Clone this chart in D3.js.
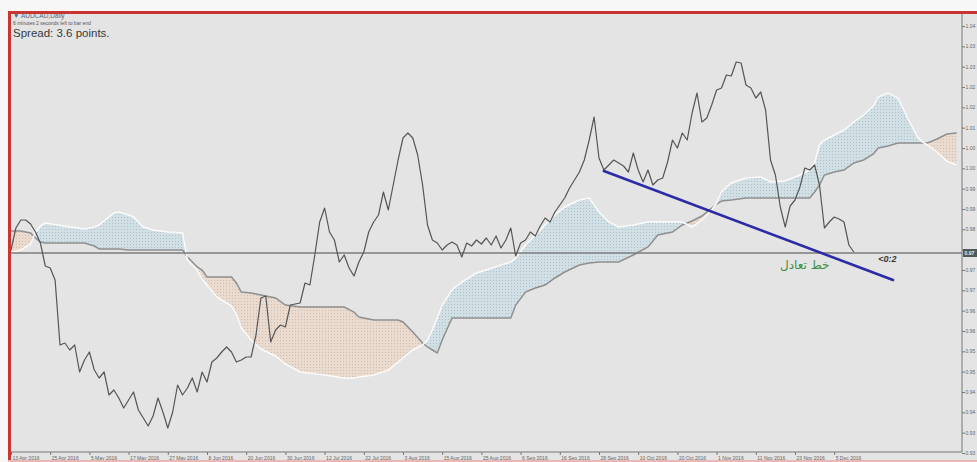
<!DOCTYPE html>
<html><head><meta charset="utf-8">
<script src="https://cdn.jsdelivr.net/npm/d3@7/dist/d3.min.js"></script>
<style>html,body{margin:0;padding:0;background:#f7f7f7;}svg{display:block;}</style>
</head><body>
<svg id="chart" width="977" height="462"></svg>
<script>
// ---------------- data ----------------
const dateLabels = ["13 Apr 2016","25 Apr 2016","5 May 2016","17 May 2016","27 May 2016","8 Jun 2016",
  "20 Jun 2016","30 Jun 2016","12 Jul 2016","22 Jul 2016","3 Aug 2016","15 Aug 2016","25 Aug 2016",
  "6 Sep 2016","16 Sep 2016","28 Sep 2016","10 Oct 2016","20 Oct 2016","1 Nov 2016","11 Nov 2016",
  "23 Nov 2016","5 Dec 2016"];
const barsPerLabel = 8;

// daily closes, one per bar from 13 Apr 2016
const closes = [
  0.9778,0.9844,0.9868,0.9868,0.9856,0.9832,0.9799,0.9730,0.9724,0.9688,
  0.9493,0.9499,0.9478,0.9493,0.9412,0.9448,0.9472,0.9418,0.9394,0.9412,
  0.9343,0.9358,0.9334,0.9304,0.9328,0.9352,0.9298,0.9274,0.9250,0.9280,
  0.9334,0.9292,0.9244,0.9292,0.9373,0.9343,0.9364,0.9394,0.9352,0.9412,
  0.9382,0.9442,0.9454,0.9472,0.9487,0.9472,0.9442,0.9448,0.9457,0.9457,
  0.9523,0.9634,0.9640,0.9502,0.9538,0.9553,0.9547,0.9613,0.9616,0.9619,
  0.9679,0.9673,0.9763,0.9862,0.9904,0.9832,0.9808,0.9742,0.9763,0.9724,
  0.9700,0.9742,0.9772,0.9832,0.9862,0.9883,0.9952,0.9898,0.9973,1.0048,
  1.0114,1.0129,1.0114,1.0063,0.9973,0.9853,0.9808,0.9799,0.9778,0.9793,
  0.9802,0.9793,0.9757,0.9799,0.9790,0.9808,0.9796,0.9814,0.9793,0.9820,
  0.9784,0.9808,0.9844,0.9760,0.9799,0.9808,0.9832,0.9820,0.9850,0.9874,
  0.9862,0.9892,0.9913,0.9934,0.9964,0.9988,1.0012,1.0048,1.0108,1.0177,
  1.0054,1.0018,1.0033,1.0048,1.0039,1.0030,1.0012,1.0069,1.0018,0.9982,
  1.0018,0.9973,0.9988,0.9994,1.0042,1.0108,1.0084,1.0129,1.0108,1.0189,
  1.0249,1.0162,1.0174,1.0213,1.0258,1.0264,1.0303,1.0300,1.0342,1.0339,
  1.0273,1.0264,1.0234,1.0252,1.0198,1.0048,1.0003,0.9907,0.9847,0.9910,
  0.9928,0.9967,1.0024,1.0018,1.0033,0.9973,0.9844,0.9862,0.9877,0.9871,
  0.9862,0.9793,0.9772
];

// Ichimoku cloud (bar index, Senkou Span A, Senkou Span B)
const cloudIdx = [0,2,4,5,6,7,12,15,17,18,21,22,24,25,27,29,32,35,36,38,39,40,42,45,46,47,49,51,54,56,59,64,68,70,71,74,77,79,80,82,84,85,86,87,88,90,92,95,97,100,102,103,105,107,109,111,113,116,118,120,122,124,127,130,132,135,137,139,141,143,144,145,147,150,153,155,158,161,163,164,165,166,168,170,172,174,176,177,179,181,183,185,186,187,189,191,193];
const senkouA = [0.9772,0.9778,0.9796,0.9832,0.9850,0.9859,0.9847,0.9841,0.9847,0.9853,0.9889,0.9892,0.9883,0.9877,0.9847,0.9838,0.9832,0.9829,0.9748,0.9718,0.9691,0.9673,0.9637,0.9610,0.9586,0.9544,0.9508,0.9481,0.9460,0.9436,0.9412,0.9403,0.9394,0.9394,0.9397,0.9403,0.9418,0.9442,0.9454,0.9478,0.9493,0.9508,0.9538,0.9574,0.9613,0.9658,0.9682,0.9709,0.9718,0.9733,0.9742,0.9754,0.9793,0.9823,0.9853,0.9883,0.9907,0.9928,0.9934,0.9892,0.9862,0.9847,0.9853,0.9862,0.9862,0.9862,0.9862,0.9847,0.9868,0.9898,0.9919,0.9952,0.9979,0.9994,0.9997,0.9982,0.9985,1.0003,1.0018,1.0039,1.0093,1.0108,1.0123,1.0138,1.0162,1.0183,1.0210,1.0237,1.0249,1.0234,1.0174,1.0117,1.0102,1.0093,1.0072,1.0045,1.0033];
const senkouB = [0.9835,0.9835,0.9829,0.9814,0.9802,0.9799,0.9799,0.9799,0.9790,0.9781,0.9781,0.9781,0.9778,0.9778,0.9778,0.9778,0.9778,0.9778,0.9757,0.9727,0.9718,0.9697,0.9697,0.9697,0.9679,0.9652,0.9649,0.9643,0.9634,0.9613,0.9607,0.9607,0.9607,0.9592,0.9577,0.9568,0.9568,0.9568,0.9562,0.9532,0.9499,0.9487,0.9478,0.9469,0.9508,0.9574,0.9574,0.9574,0.9574,0.9574,0.9574,0.9613,0.9652,0.9664,0.9673,0.9694,0.9712,0.9733,0.9739,0.9742,0.9742,0.9742,0.9763,0.9787,0.9823,0.9832,0.9853,0.9865,0.9880,0.9904,0.9916,0.9925,0.9928,0.9934,0.9934,0.9934,0.9934,0.9934,0.9934,0.9952,0.9973,1.0003,1.0012,1.0018,1.0039,1.0048,1.0066,1.0084,1.0090,1.0099,1.0099,1.0099,1.0099,1.0099,1.0111,1.0126,1.0129];

// right price scale: tick values and the (cropped) labels as they appear
const yTicks = [1.0450,1.0389,1.0328,1.0267,1.0206,1.0145,1.0084,1.0023,0.9962,0.9901,0.9840,0.9779,0.9718,0.9657,0.9596,0.9535,0.9474,0.9413,0.9352,0.9291,0.9230,0.9169];
const yTickLabels = ["1.04","1.03","1.03","1.02","1.02","1.01","1.00","1.00","0.99","0.99","0.98","","0.97","0.97","0.96","0.96","0.95","0.95","0.94","0.94","0.93","0.93"];
const bidPrice = 0.9769;
const bidLabel = "0.97";
const trendIdx = [121,180];
const trendVal = [1.0015,0.9688];
const headerLines = ["\u25BC AUDCAD,Daily","6 minutes 2 seconds left to bar end","Spread: 3.6 points."];
const arabicLabel = "خط تعادل";
const sideLabel = "<0:2";

// ---------------- drawing ----------------
const svg = d3.select("#chart");
const W = 977, H = 462;
const plotL = 10, plotR = 962, plotT = 13, plotB = 452;

const x = d3.scaleLinear().domain([0,194]).range([11, 961.6]);
const y = d3.scaleLinear().domain([1.0450, 0.9169]).range([26, 453]);

const defs = svg.append("defs");
function dotPattern(id, bg, dot){
  const p = defs.append("pattern").attr("id",id).attr("width",3).attr("height",3)
    .attr("patternUnits","userSpaceOnUse");
  p.append("rect").attr("width",3).attr("height",3).attr("fill",bg);
  p.append("rect").attr("x",1).attr("y",1).attr("width",1).attr("height",1).attr("fill",dot);
}
dotPattern("pBlue","#d2e0e5","#a9c3cd");
dotPattern("pOrange","#e9dbd0","#d5bba8");

defs.append("clipPath").attr("id","plotClip").append("rect")
  .attr("x",plotL).attr("y",plotT).attr("width",plotR-plotL).attr("height",plotB-plotT);

const cloud = cloudIdx.map((d,i)=>({i:d,a:senkouA[i],b:senkouB[i]}));
const above = d3.area().x(d=>x(d.i)).y0(0).y1(d=>y(d.b));
const below = d3.area().x(d=>x(d.i)).y0(H).y1(d=>y(d.b));
defs.append("clipPath").attr("id","clipAbove").append("path").attr("d",above(cloud));
defs.append("clipPath").attr("id","clipBelow").append("path").attr("d",below(cloud));

// background
svg.append("rect").attr("x",0).attr("y",0).attr("width",W).attr("height",H).attr("fill","#f7f7f7");
svg.append("rect").attr("x",plotL).attr("y",plotT).attr("width",W-plotL).attr("height",H-plotT).attr("fill","#e4e4e4");

const g = svg.append("g").attr("clip-path","url(#plotClip)");
const band = d3.area().x(d=>x(d.i)).y0(d=>y(d.a)).y1(d=>y(d.b));
g.append("g").attr("clip-path","url(#clipAbove)").append("path").attr("d",band(cloud)).attr("fill","url(#pBlue)");
g.append("g").attr("clip-path","url(#clipBelow)").append("path").attr("d",band(cloud)).attr("fill","url(#pOrange)");

const lineB = d3.line().x(d=>x(d.i)).y(d=>y(d.b));
const lineA = d3.line().x(d=>x(d.i)).y(d=>y(d.a));
g.append("path").attr("d",lineB(cloud)).attr("fill","none").attr("stroke","#8f8f8f").attr("stroke-width",1.5);
g.append("path").attr("d",lineA(cloud)).attr("fill","none").attr("stroke","#fbfbfb").attr("stroke-width",1.5);

// bid line
g.append("line").attr("x1",plotL).attr("x2",plotR).attr("y1",y(bidPrice)).attr("y2",y(bidPrice))
  .attr("stroke","#7d7d7d").attr("stroke-width",1.6);

// price line
const priceLine = d3.line().x((d,i)=>x(i)).y(d=>y(d));
g.append("path").attr("d",priceLine(closes)).attr("fill","none").attr("stroke","#565656").attr("stroke-width",1.2)
  .attr("stroke-linejoin","round");

// trend line
g.append("line").attr("x1",x(trendIdx[0])).attr("y1",y(trendVal[0])).attr("x2",x(trendIdx[1])).attr("y2",y(trendVal[1]))
  .attr("stroke","#2b2ba6").attr("stroke-width",2.6).attr("stroke-linecap","round");

// labels on chart
svg.append("text").attr("x",x(162)).attr("y",y(0.9720)).attr("text-anchor","middle")
  .attr("font-family","DejaVu Sans, sans-serif").attr("font-size",12).attr("fill","#3d8f3d").text(arabicLabel);
svg.append("text").attr("x",x(177)).attr("y",y(0.9743)).attr("font-family","Liberation Sans, Arial, sans-serif")
  .attr("font-size",9).attr("font-weight","bold").attr("font-style","italic").attr("fill","#3a3a3a").text(sideLabel);

// header
svg.append("text").attr("x",13).attr("y",18).attr("font-family","Liberation Sans, Arial, sans-serif")
  .attr("font-size",6.5).attr("fill","#4f6582").text(headerLines[0]);
svg.append("text").attr("x",13).attr("y",25).attr("font-family","Liberation Sans, Arial, sans-serif")
  .attr("font-size",5).attr("fill","#555").text(headerLines[1]);
svg.append("text").attr("x",13).attr("y",37).attr("font-family","Liberation Sans, Arial, sans-serif")
  .attr("font-size",11.5).attr("fill","#3a3a3a").text(headerLines[2]);

// right axis
const yAxis = d3.axisRight(y).tickValues(yTicks).tickSize(3).tickFormat((d,i)=>yTickLabels[i]);
const ya = svg.append("g").attr("transform",`translate(${plotR},0)`).call(yAxis);
ya.select(".domain").attr("d",`M0,${plotT}V${plotB}`).attr("stroke","#777");
ya.selectAll(".tick line").attr("stroke","#777");
ya.selectAll(".tick text").attr("x",3.5).attr("font-size",5).attr("fill","#666").attr("font-family","Liberation Sans, Arial, sans-serif");
// bid price marker
svg.append("rect").attr("x",plotR+1).attr("y",y(bidPrice)-4).attr("width",W-plotR).attr("height",8).attr("fill","#4f5a5a");
svg.append("text").attr("x",plotR+2.5).attr("y",y(bidPrice)+2).attr("font-size",5).attr("font-weight","bold")
  .attr("fill","#eaeaea").attr("font-family","Liberation Sans, Arial, sans-serif").text(bidLabel);

// bottom axis
const xAxis = d3.axisBottom(x).tickValues(dateLabels.map((d,i)=>i*barsPerLabel)).tickSize(3)
  .tickFormat((d,i)=>dateLabels[i]);
const xa = svg.append("g").attr("transform",`translate(0,${plotB})`).call(xAxis);
xa.select(".domain").attr("d",`M${plotL},0H${plotR}`).attr("stroke","#777");
xa.selectAll(".tick line").attr("stroke","#777");
xa.selectAll(".tick text").attr("text-anchor","start").attr("x",1).attr("y",4).attr("dy","0.71em")
  .attr("font-size",5).attr("fill","#666").attr("font-family","Liberation Sans, Arial, sans-serif");

// red frame
svg.append("line").attr("x1",8).attr("x2",W).attr("y1",12.5).attr("y2",12.5).attr("stroke","#c93530").attr("stroke-width",3);
svg.append("line").attr("x1",9.5).attr("x2",9.5).attr("y1",11).attr("y2",H).attr("stroke","#c93530").attr("stroke-width",3);
svg.append("line").attr("x1",8).attr("x2",W).attr("y1",461).attr("y2",461).attr("stroke","#eab7b5").attr("stroke-width",2);
</script>
</body></html>
